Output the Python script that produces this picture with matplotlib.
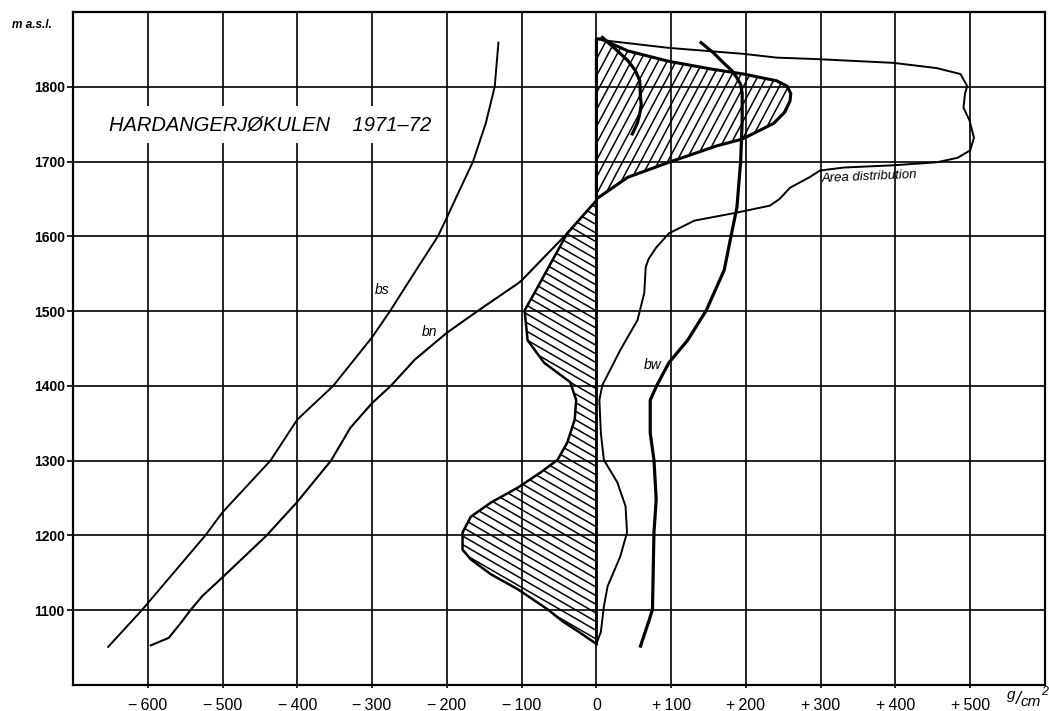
import numpy as np
import matplotlib.pyplot as plt
from matplotlib.patches import Polygon

plt.rcParams['font.family'] = ['Liberation Sans', 'DejaVu Sans']

# balance curves, x in g/cm2, y in m a.s.l.
bs_x = [-653, -608, -523, -500, -436, -400, -352, -300, -276, -241, -212, -200, -188,
        -165, -148, -136, -131]
bs_y = [1051, 1100, 1200, 1231, 1300, 1355, 1400, 1465, 1500, 1555, 1600, 1625, 1651,
        1700, 1751, 1800, 1859]

bn_x = [-596, -572, -555, -543, -527, -500, -441, -400, -355, -329, -300, -275, -243,
        -200, -159, -105, -100, -39, 0]
bn_y = [1053, 1063, 1084, 1100, 1119, 1144, 1200, 1245, 1300, 1344, 1377, 1400, 1435,
        1471, 1500, 1537, 1541, 1604, 1648]

bn_top_x = [48, 50, 55, 58, 60, 59, 58, 52, 42, 26, 8]
bn_top_y = [1737, 1741, 1752, 1764, 1776, 1786, 1808, 1822, 1835, 1850, 1866]

bw_x = [59, 71, 75, 77, 80, 77, 72, 72, 81, 97, 122, 147, 171, 179, 188, 193, 195, 195,
        193, 188, 181, 171, 157, 140]
bw_y = [1052, 1088, 1101, 1204, 1248, 1301, 1337, 1381, 1401, 1431, 1461, 1501, 1555,
        1595, 1639, 1701, 1755, 1791, 1803, 1812, 1822, 1831, 1845, 1859]

area_x = [0, 6, 10, 15, 32, 41, 39, 28, 10, 6, 4, 8, 32, 55, 64, 66, 70, 80, 97, 131, 184,
          232, 245, 259, 285, 299, 331, 397, 455, 483, 500, 505, 499, 491, 493, 496, 487,
          455, 397, 295, 241, 197, 97, 19, 0]
area_y = [1055, 1071, 1105, 1132, 1172, 1204, 1239, 1271, 1301, 1337, 1381, 1401, 1448,
          1488, 1524, 1559, 1570, 1585, 1604, 1621, 1631, 1641, 1650, 1665, 1679, 1688,
          1692, 1695, 1699, 1705, 1715, 1732, 1755, 1772, 1791, 1801, 1817, 1825, 1832,
          1837, 1839, 1844, 1852, 1861, 1864]

# net balance times area: accumulation (upper) and ablation (lower) parts
acc_x = [0, 42, 97, 161, 195, 237, 252, 259, 260, 255, 241, 197, 152, 97, 42, 6, 0]
acc_y = [1650, 1679, 1699, 1721, 1730, 1751, 1766, 1781, 1791, 1801, 1808, 1817, 1824,
         1834, 1848, 1864, 1864]

abl_x = [0, -39, -83, -96, -92, -70, -35, -27, -29, -39, -52, -75, -105, -141, -168,
         -179, -179, -168, -141, -105, -65, -45, -25, 0]
abl_y = [1648, 1604, 1524, 1501, 1461, 1431, 1405, 1381, 1355, 1324, 1301, 1284, 1264,
         1244, 1225, 1204, 1181, 1168, 1148, 1128, 1101, 1085, 1072, 1055]

xticks = np.arange(-600, 501, 100)
xlabels = ['\u2212\u2009600', '\u2212\u2009500', '\u2212\u2009400', '\u2212\u2009300',
           '\u2212\u2009200', '\u2212\u2009100', '0', '+\u2009100', '+\u2009200',
           '+\u2009300', '+\u2009400', '+\u2009500']
yticks = np.arange(1100, 1801, 100)


def hatch(ax, patch, angle, spacing, center):
    # parallel lines clipped to the outline of the patch
    t = np.deg2rad(angle)
    d = np.array([np.cos(t), np.sin(t)])
    n = np.array([-np.sin(t), np.cos(t)])
    for off in np.arange(-600, 600, spacing):
        p = np.array(center) + n * off
        a, b = p - d * 800, p + d * 800
        ln, = ax.plot([a[0], b[0]], [a[1], b[1]], color='black', lw=1.1, zorder=3)
        ln.set_clip_path(patch)


fig = plt.figure(figsize=(10.49, 7.11), dpi=100)
ax = fig.add_axes([73 / 1049, 26 / 711, 972 / 1049, 673 / 711])
ax.set_xlim(-700, 600)
ax.set_ylim(1000, 1900)

ax.set_xticks(xticks)
ax.set_xticklabels(xlabels, fontsize=11.5)
ax.set_yticks(yticks)
ax.set_yticklabels([str(v) for v in yticks], fontsize=10, fontweight='bold')
ax.tick_params(axis='x', length=2, width=1.2, pad=7)
ax.tick_params(axis='y', length=4, width=1.2, pad=2)
ax.grid(True, color='black', lw=1.2)
ax.set_axisbelow(True)
for s in ax.spines.values():
    s.set_linewidth(1.6)

acc = Polygon(np.column_stack([acc_x, acc_y]), closed=True, facecolor='none',
              edgecolor='black', lw=2.2, joinstyle='round', zorder=4)
abl = Polygon(np.column_stack([abl_x, abl_y]), closed=True, facecolor='none',
              edgecolor='black', lw=1.8, joinstyle='round', zorder=4)
ax.add_patch(acc)
ax.add_patch(abl)
hatch(ax, acc, 62, 10.6, (120, 1760))
hatch(ax, abl, -30, 10.0, (-80, 1350))
ax.plot([0, 0], [1055, 1864], color='black', lw=1.8, zorder=4)

kw = dict(color='black', solid_joinstyle='round', zorder=5)
ax.plot(bs_x, bs_y, lw=1.4, **kw)
ax.plot(bn_x, bn_y, lw=1.5, **kw)
ax.plot(bn_top_x, bn_top_y, lw=2.3, **kw)
ax.plot(bw_x, bw_y, lw=2.3, **kw)
ax.plot(area_x, area_y, lw=1.4, **kw)

ax.text(-286, 1528, 'bs', style='italic', fontsize=10, ha='center', va='center')
ax.text(-223, 1472, 'bn', style='italic', fontsize=10, ha='center', va='center')
ax.text(75, 1428, 'bw', style='italic', fontsize=10, ha='center', va='center')
ax.text(301, 1685, 'Area distribution', style='italic', fontsize=9.5, rotation=2.5,
        rotation_mode='anchor', ha='left', va='top', zorder=6)

ax.text(-652, 1749, 'HARDANGERJ\u00d8KULEN    1971\u201372', style='italic', fontsize=14.5,
        ha='left', va='center', zorder=6,
        bbox=dict(boxstyle='square,pad=0.45', facecolor='white', edgecolor='none'))

fig.text(12 / 1049, 1 - 25 / 711, 'm a.s.l.', style='italic', fontweight='bold',
         fontsize=8.5, ha='left', va='center')

# unit label g/cm2 built from pieces
for s, px, py, fs in [('g', 1011, 695, 11), ('/', 1018, 699, 13),
                      ('cm', 1031, 702, 11), ('2', 1045, 692, 9)]:
    fig.text(px / 1049, 1 - py / 711, s, style='italic', fontsize=fs,
             ha='center', va='center')

fig.savefig('out.png', dpi=100)
